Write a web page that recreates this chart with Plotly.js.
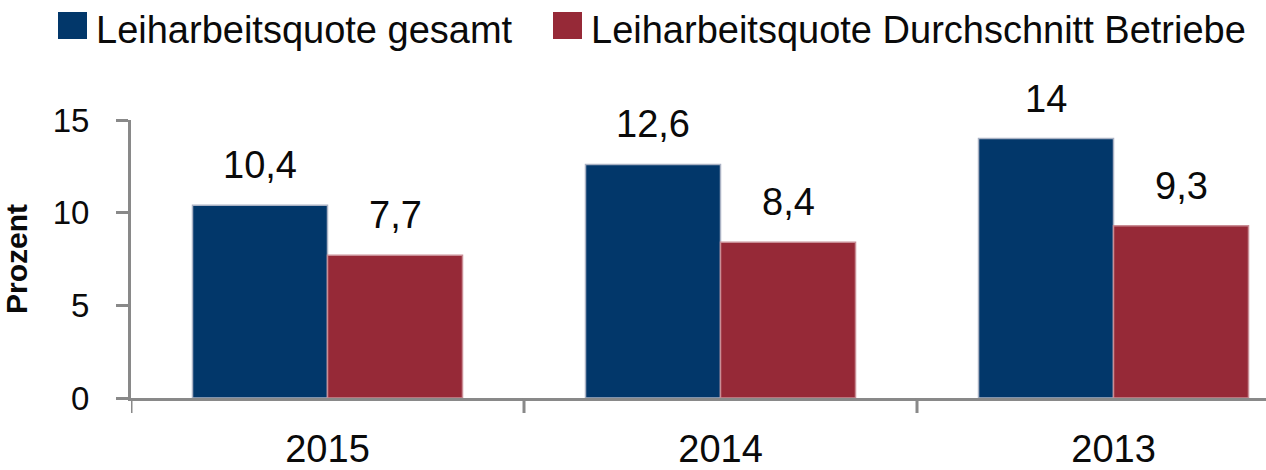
<!DOCTYPE html>
<html>
<head>
<meta charset="utf-8">
<script src="https://cdn.plot.ly/plotly-3.0.1.min.js"></script>
<style>html,body{margin:0;padding:0;background:#fff;}#chart{width:1266px;height:470px;}</style>
</head>
<body>
<div id="chart"></div>
<script>
var categories = ["2015", "2014", "2013"];
var seriesNames = ["Leiharbeitsquote gesamt", "Leiharbeitsquote Durchschnitt Betriebe"];
var gesamt = [10.4, 12.6, 14];
var betriebe = [7.7, 8.4, 9.3];
var yTicks = [0, 5, 10, 15];
var yTitle = "Prozent";

var colors = ["#02376a", "#962937"];
var edgeColors = ["#aab2c4", "#c98d95"];
var FONT = "Liberation Sans, Arial, sans-serif";
var bargap = 0.313;
var barW = (1 - bargap) / 2;
var fmt = function (v) { return String(v).replace('.', ','); };

var series = [gesamt, betriebe];
var xIdx = categories.map(function (c, i) { return i; });

var traces = series.map(function (vals, j) {
  return {
    type: 'bar',
    x: xIdx,
    y: vals,
    name: seriesNames[j],
    showlegend: false,
    marker: {color: colors[j], line: {color: edgeColors[j], width: 1.5}},
    hoverinfo: 'none'
  };
});

var annotations = [];
series.forEach(function (vals, j) {
  vals.forEach(function (v, i) {
    annotations.push({
      x: i + (j === 0 ? -1 : 1) * barW / 2,
      y: v, xref: 'x', yref: 'y',
      text: fmt(v), showarrow: false,
      xanchor: 'center', yanchor: 'bottom', yshift: 17,
      font: {family: FONT, size: 38, color: '#0a0a0a'}
    });
  });
});

var legendX = [-73, 422];
var shapes = [];
seriesNames.forEach(function (n, j) {
  shapes.push({
    type: 'rect', xref: 'paper', yref: 'paper',
    xsizemode: 'pixel', ysizemode: 'pixel',
    xanchor: 0, yanchor: 1,
    x0: legendX[j], x1: legendX[j] + 29, y0: 81, y1: 108,
    fillcolor: colors[j], line: {width: 0}
  });
  annotations.push({
    xref: 'paper', yref: 'paper', x: 0, y: 1,
    xshift: legendX[j] + 36, yshift: 90,
    xanchor: 'left', yanchor: 'middle',
    text: n, showarrow: false,
    font: {family: FONT, size: 38, color: '#0a0a0a'}
  });
});

var layout = {
  width: 1266, height: 470,
  margin: {l: 131, r: 0, t: 120, b: 72},
  paper_bgcolor: '#fff', plot_bgcolor: '#fff',
  barmode: 'group', bargap: bargap, bargroupgap: 0,
  showlegend: false,
  xaxis: {
    range: [-0.5, 2.388],
    tickmode: 'array', tickvals: xIdx, ticktext: categories,
    showgrid: false, zeroline: false,
    showline: true, linecolor: '#898989', linewidth: 3,
    ticks: '',
    tickfont: {family: FONT, size: 38, color: '#0a0a0a'},
    ticklabelstandoff: 15,
    fixedrange: true
  },
  yaxis: {
    range: [0, 15],
    tickmode: 'array', tickvals: yTicks, ticktext: yTicks.map(String),
    showgrid: false, zeroline: false,
    showline: true, linecolor: '#898989', linewidth: 3,
    ticks: 'outside', ticklen: 12, tickwidth: 3, tickcolor: '#898989',
    tickfont: {family: FONT, size: 33, color: '#0a0a0a'},
    ticklabelstandoff: 20,
    title: {text: yTitle, font: {family: FONT, size: 30, color: '#0a0a0a', weight: 'bold'}, standoff: 20},
    fixedrange: true
  },
  shapes: shapes,
  annotations: annotations
};

// boundary tick marks on the category axis
categories.forEach(function (c, i) {
  shapes.push({
    type: 'line', xref: 'x', yref: 'paper', ysizemode: 'pixel', yanchor: 0,
    x0: i - 0.5, x1: i - 0.5, y0: 0, y1: -15,
    line: {color: '#898989', width: 3}
  });
});

Plotly.newPlot('chart', traces, layout, {displayModeBar: false, staticPlot: true});
</script>
</body>
</html>
